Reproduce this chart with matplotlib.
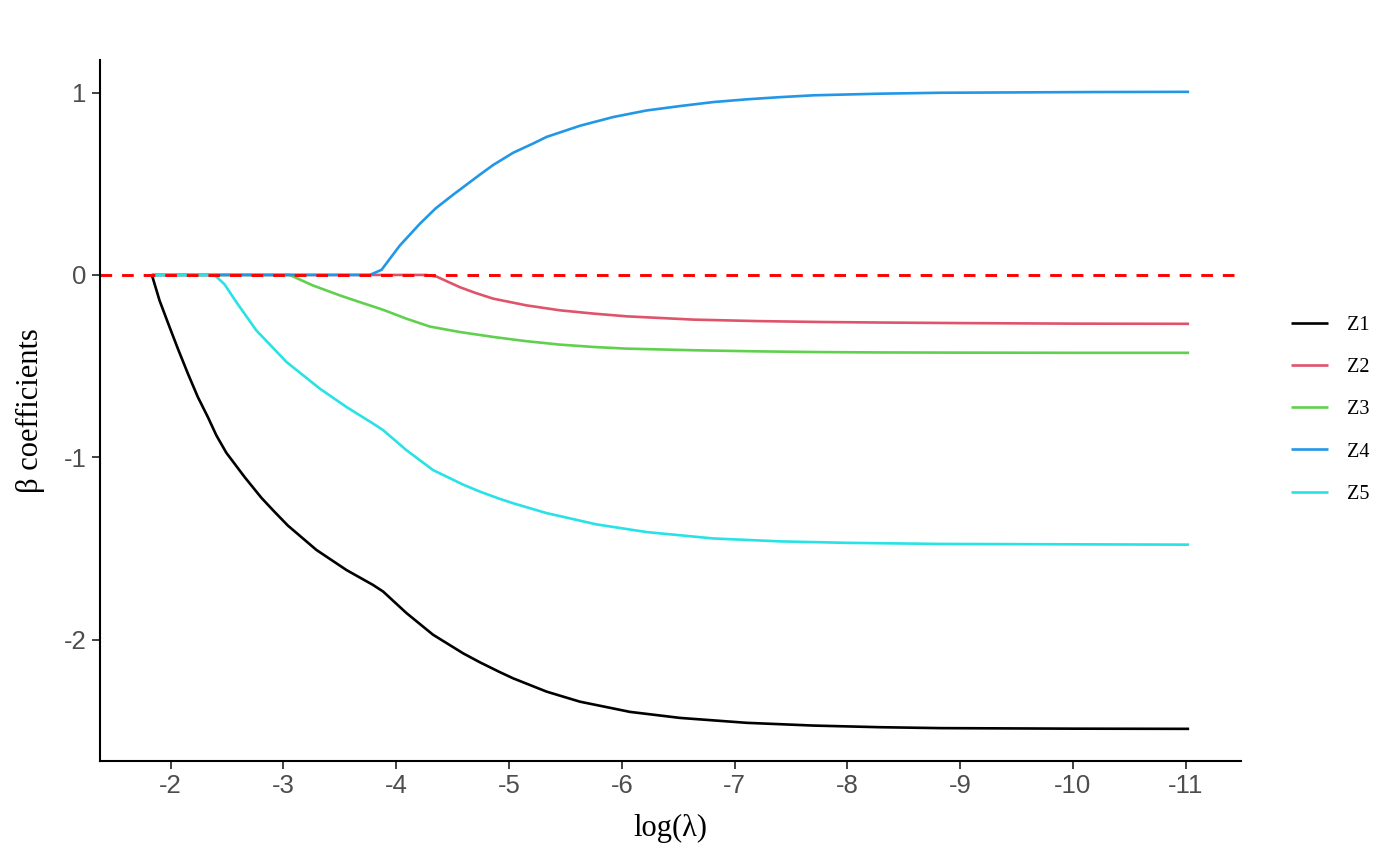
import matplotlib
matplotlib.use("Agg")
import matplotlib.pyplot as plt

# lasso coefficient paths (x = log(lambda))
z1_x = [-1.834, -1.902, -1.991, -2.065, -2.154, -2.242, -2.331, -2.406, -2.494, -2.657,
        -2.805, -2.923, -3.041, -3.293, -3.559, -3.795, -3.884, -4.091, -4.327, -4.594,
        -4.742, -4.919, -5.037, -5.334, -5.629, -6.073, -6.516, -7.108, -7.699, -8.291,
        -8.823, -10.0, -11.03]
z1_y = [0.0, -0.140, -0.286, -0.405, -0.542, -0.670, -0.780, -0.880, -0.975, -1.109,
        -1.222, -1.300, -1.375, -1.508, -1.618, -1.700, -1.736, -1.854, -1.973, -2.075,
        -2.124, -2.178, -2.212, -2.285, -2.340, -2.396, -2.429, -2.456, -2.471, -2.480,
        -2.485, -2.488, -2.489]

z2_x = [-1.834, -4.269, -4.358, -4.45, -4.564, -4.70, -4.860, -5.156, -5.452, -5.75,
        -6.044, -6.636, -7.2, -7.76, -8.3, -9.0, -10.0, -11.03]
z2_y = [0.0, 0.0, -0.009, -0.035, -0.067, -0.098, -0.130, -0.167, -0.194, -0.212,
        -0.227, -0.245, -0.253, -0.258, -0.261, -0.264, -0.267, -0.268]

z3_x = [-1.834, -3.056, -3.263, -3.500, -3.677, -3.855, -3.914, -4.091, -4.298, -4.564,
        -4.860, -5.15, -5.45, -5.75, -6.04, -6.635, -7.2, -7.76, -8.3, -9.0, -10.0, -11.03]
z3_y = [0.0, 0.0, -0.058, -0.112, -0.149, -0.185, -0.198, -0.240, -0.283, -0.313,
        -0.340, -0.363, -0.382, -0.395, -0.404, -0.413, -0.419, -0.423, -0.425, -0.426,
        -0.427, -0.427]

z4_x = [-1.834, -3.766, -3.870, -4.032, -4.209, -4.35, -4.505, -4.742, -4.860, -5.037,
        -5.215, -5.334, -5.629, -5.925, -6.221, -6.516, -6.812, -7.108, -7.404, -7.699,
        -8.291, -8.823, -9.5, -10.2, -11.03]
z4_y = [0.0, 0.0, 0.028, 0.161, 0.280, 0.365, 0.440, 0.550, 0.603, 0.670,
        0.721, 0.757, 0.818, 0.866, 0.902, 0.926, 0.948, 0.963, 0.975, 0.985,
        0.994, 0.999, 1.001, 1.003, 1.004]

z5_x = [-1.834, -2.390, -2.479, -2.583, -2.760, -3.027, -3.322, -3.559, -3.795, -3.884,
        -4.091, -4.327, -4.594, -4.742, -4.919, -5.037, -5.334, -5.777, -6.221, -6.812,
        -7.404, -7.995, -8.823, -11.03]
z5_y = [0.0, 0.0, -0.052, -0.149, -0.304, -0.477, -0.623, -0.724, -0.815, -0.851,
        -0.961, -1.070, -1.150, -1.188, -1.228, -1.252, -1.306, -1.368, -1.410, -1.445,
        -1.461, -1.469, -1.475, -1.479]

labels = ["Z1", "Z2", "Z3", "Z4", "Z5"]
colors = ["#000000", "#DF536B", "#61D04F", "#2297E6", "#28E2E5"]
xticks = [-2, -3, -4, -5, -6, -7, -8, -9, -10, -11]
yticks = [1, 0, -1, -2]

serif = ["Liberation Serif", "DejaVu Serif"]

fig = plt.figure(figsize=(14, 8.65), dpi=100)
fig.subplots_adjust(left=100/1400, right=1241/1400, bottom=1-760.7/865, top=1-60/865)
ax = fig.add_subplot(111)

xs = [z1_x, z2_x, z3_x, z4_x, z5_x]
ys = [z1_y, z2_y, z3_y, z4_y, z5_y]
for x, y, c, lab in zip(xs, ys, colors, labels):
    ax.plot(x, y, color=c, lw=1.9, label=lab, solid_capstyle="butt",
            solid_joinstyle="round")

ax.axhline(0, color="#FF0000", lw=2.1, dashes=(4.0, 3.4))

# ggplot-like 5% expansion
xmin = min(min(v) for v in xs); xmax = max(max(v) for v in xs)
ymin = min(min(v) for v in ys); ymax = max(max(v) for v in ys)
xp = 0.05 * (xmax - xmin); yp = 0.05 * (ymax - ymin)
ax.set_xlim(xmax + xp, xmin - xp)
ax.set_ylim(ymin - yp, ymax + yp)

ax.set_xticks(xticks)
ax.set_xticklabels([str(t) for t in xticks])
ax.set_yticks(yticks)
ax.set_yticklabels([str(t) for t in yticks])
ax.tick_params(length=5.5, width=1.3, color="#333333", labelcolor="#4D4D4D",
               labelsize=18.5, pad=4)
for t in ax.get_xticklabels() + ax.get_yticklabels():
    t.set_family(["Liberation Sans", "DejaVu Sans"])

for s in ["top", "right"]:
    ax.spines[s].set_visible(False)
for s in ["left", "bottom"]:
    ax.spines[s].set_linewidth(1.5)
    ax.spines[s].set_color("black")

ax.set_xlabel("log(λ)", fontsize=22, family=serif, labelpad=11.5)
ax.set_ylabel("β coefficients", fontsize=22, family=serif, labelpad=13.5)

fig.legend(loc="center left", bbox_to_anchor=(1291/1400, 1-409.7/865),
           frameon=False, borderpad=0, borderaxespad=0, handlelength=1.82,
           handletextpad=0.95, labelspacing=1.15,
           prop={"family": serif, "size": 14.5})

fig.savefig("out.png", dpi=100, facecolor="white")
